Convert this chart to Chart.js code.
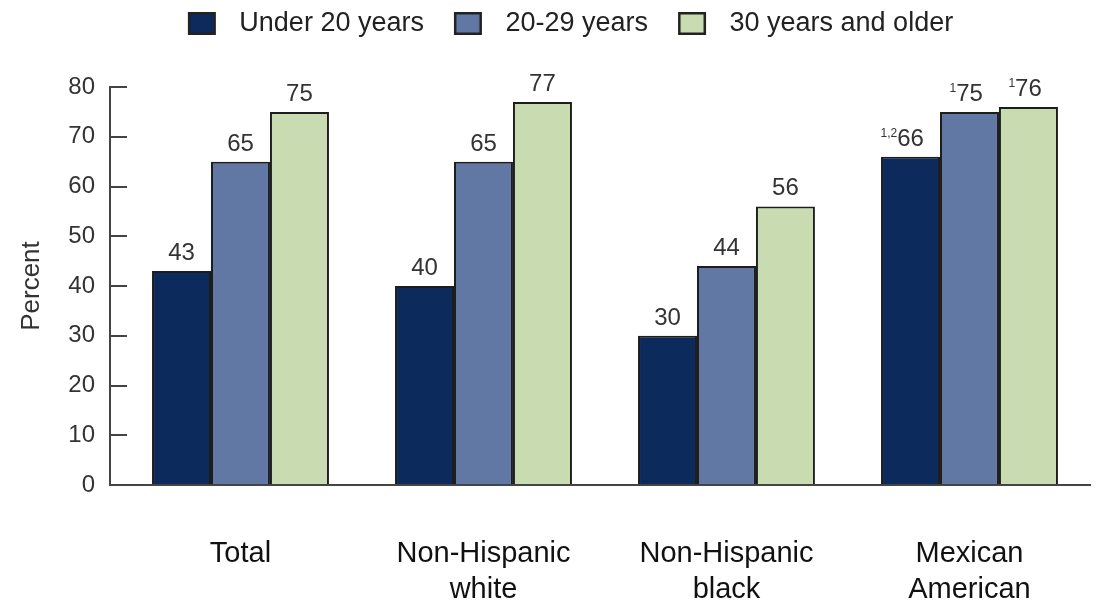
<!DOCTYPE html>
<html>
<head>
<meta charset="utf-8">
<script src="https://cdn.jsdelivr.net/npm/chart.js@4/dist/chart.umd.min.js"></script>
<style>
  html, body { margin: 0; padding: 0; background: #ffffff; }
  #chart { display: block; }
</style>
</head>
<body>
<canvas id="chart" width="1114" height="600"></canvas>
<script>
// Category labels (one entry per line of each axis label)
const categoryLines = [
  ['Total'],
  ['Non-Hispanic', 'white'],
  ['Non-Hispanic', 'black'],
  ['Mexican', 'American']
];

// Series names
const seriesNames = ['Under 20 years', '20-29 years', '30 years and older'];

// Percent values per category
const under20 = [43, 40, 30, 66];
const age20to29 = [65, 65, 44, 75];
const age30plus = [75, 77, 56, 76];

// Footnote markers printed before some value labels
const under20Notes = ['', '', '', '1,2'];
const age20to29Notes = ['', '', '', '1'];
const age30plusNotes = ['', '', '', '1'];

// Value axis range
const yMin = 0;
const yMax = 80;
const yStep = 10;

const FONT = "'Liberation Sans', Arial, Helvetica, sans-serif";
const fills = ['#0c2a5b', '#6178a5', '#c9dbb1'];
const outline = '#1d1d1d';

// Legend swatch: outlined square with transparent margins for spacing
function swatch(fill) {
  const c = document.createElement('canvas');
  c.width = 58;
  c.height = 23;
  const g = c.getContext('2d');
  g.fillStyle = fill;
  g.fillRect(21, 1, 26, 21);
  g.strokeStyle = '#222';
  g.lineWidth = 2.5;
  g.strokeRect(21.25, 1.25, 25.5, 20.5);
  return c;
}
const swatches = fills.map(swatch);

// Value labels above bars (with optional superscript notes)
const valueLabels = {
  id: 'valueLabels',
  afterDatasetsDraw(chart) {
    const ctx = chart.ctx;
    ctx.save();
    chart.data.datasets.forEach((ds, di) => {
      const meta = chart.getDatasetMeta(di);
      meta.data.forEach((bar, i) => {
        const text = String(ds.data[i]);
        const baseY = bar.y - 11;
        ctx.font = '24px ' + FONT;
        ctx.fillStyle = '#333';
        ctx.textAlign = 'center';
        ctx.textBaseline = 'alphabetic';
        ctx.fillText(text, bar.x, baseY);
        const note = ds.notes[i];
        if (note) {
          const w = ctx.measureText(text).width;
          ctx.font = '12px ' + FONT;
          ctx.textAlign = 'right';
          ctx.fillText(note, bar.x - w / 2, baseY - 9);
        }
      });
    });
    ctx.restore();
  }
};

const datasetDefs = [
  { values: under20, notes: under20Notes },
  { values: age20to29, notes: age20to29Notes },
  { values: age30plus, notes: age30plusNotes }
];

new Chart(document.getElementById('chart'), {
  type: 'bar',
  data: {
    labels: categoryLines.map((_, i) => i),
    datasets: datasetDefs.map((d, k) => ({
      label: seriesNames[k],
      data: d.values,
      notes: d.notes,
      backgroundColor: fills[k],
      borderColor: outline,
      borderWidth: 2,
      categoryPercentage: 0.728,
      barPercentage: 1.0
    }))
  },
  options: {
    responsive: false,
    animation: false,
    layout: { padding: { left: 31, right: 24, top: 0, bottom: 0 } },
    plugins: {
      tooltip: { enabled: false },
      legend: {
        position: 'top',
        labels: {
          usePointStyle: true,
          pointStyleWidth: 58,
          boxHeight: 23,
          padding: 10,
          color: '#222',
          font: { family: FONT, size: 27 },
          generateLabels(chart) {
            const items = Chart.defaults.plugins.legend.labels.generateLabels(chart);
            items.forEach((it, k) => { it.pointStyle = swatches[k]; });
            return items;
          }
        }
      },
      title: {
        display: true,
        text: '',
        weight: 500,
        font: { size: 10, lineHeight: 1 },
        padding: { top: 30, bottom: 0 }
      }
    },
    scales: {
      x: {
        type: 'linear',
        min: -0.537,
        max: 3.496,
        offset: false,
        grid: { display: false, offset: false },
        border: { display: true, color: '#444', width: 2 },
        ticks: {
          stepSize: 1,
          includeBounds: false,
          autoSkip: false,
          maxRotation: 0,
          minRotation: 0,
          padding: 43,
          color: '#111',
          font: { family: FONT, size: 29, lineHeight: 1.24 },
          callback: (v) => categoryLines[v] !== undefined ? categoryLines[v] : ''
        },
        afterFit(scale) { scale.height = 115; }
      },
      y: {
        min: yMin,
        max: yMax,
        grid: {
          display: true,
          drawOnChartArea: false,
          drawTicks: true,
          tickLength: -17,
          color: '#444',
          lineWidth: 2
        },
        border: { display: true, color: '#444', width: 2 },
        ticks: {
          stepSize: yStep,
          padding: 32,
          color: '#333',
          font: { family: FONT, size: 24 }
        },
        title: {
          display: true,
          text: 'Percent',
          color: '#333',
          font: { family: FONT, size: 26, lineHeight: 1 },
          padding: { top: -12, bottom: 0 }
        },
        afterFit(scale) { scale.width = 79; }
      }
    }
  },
  plugins: [valueLabels]
});
</script>
</body>
</html>
